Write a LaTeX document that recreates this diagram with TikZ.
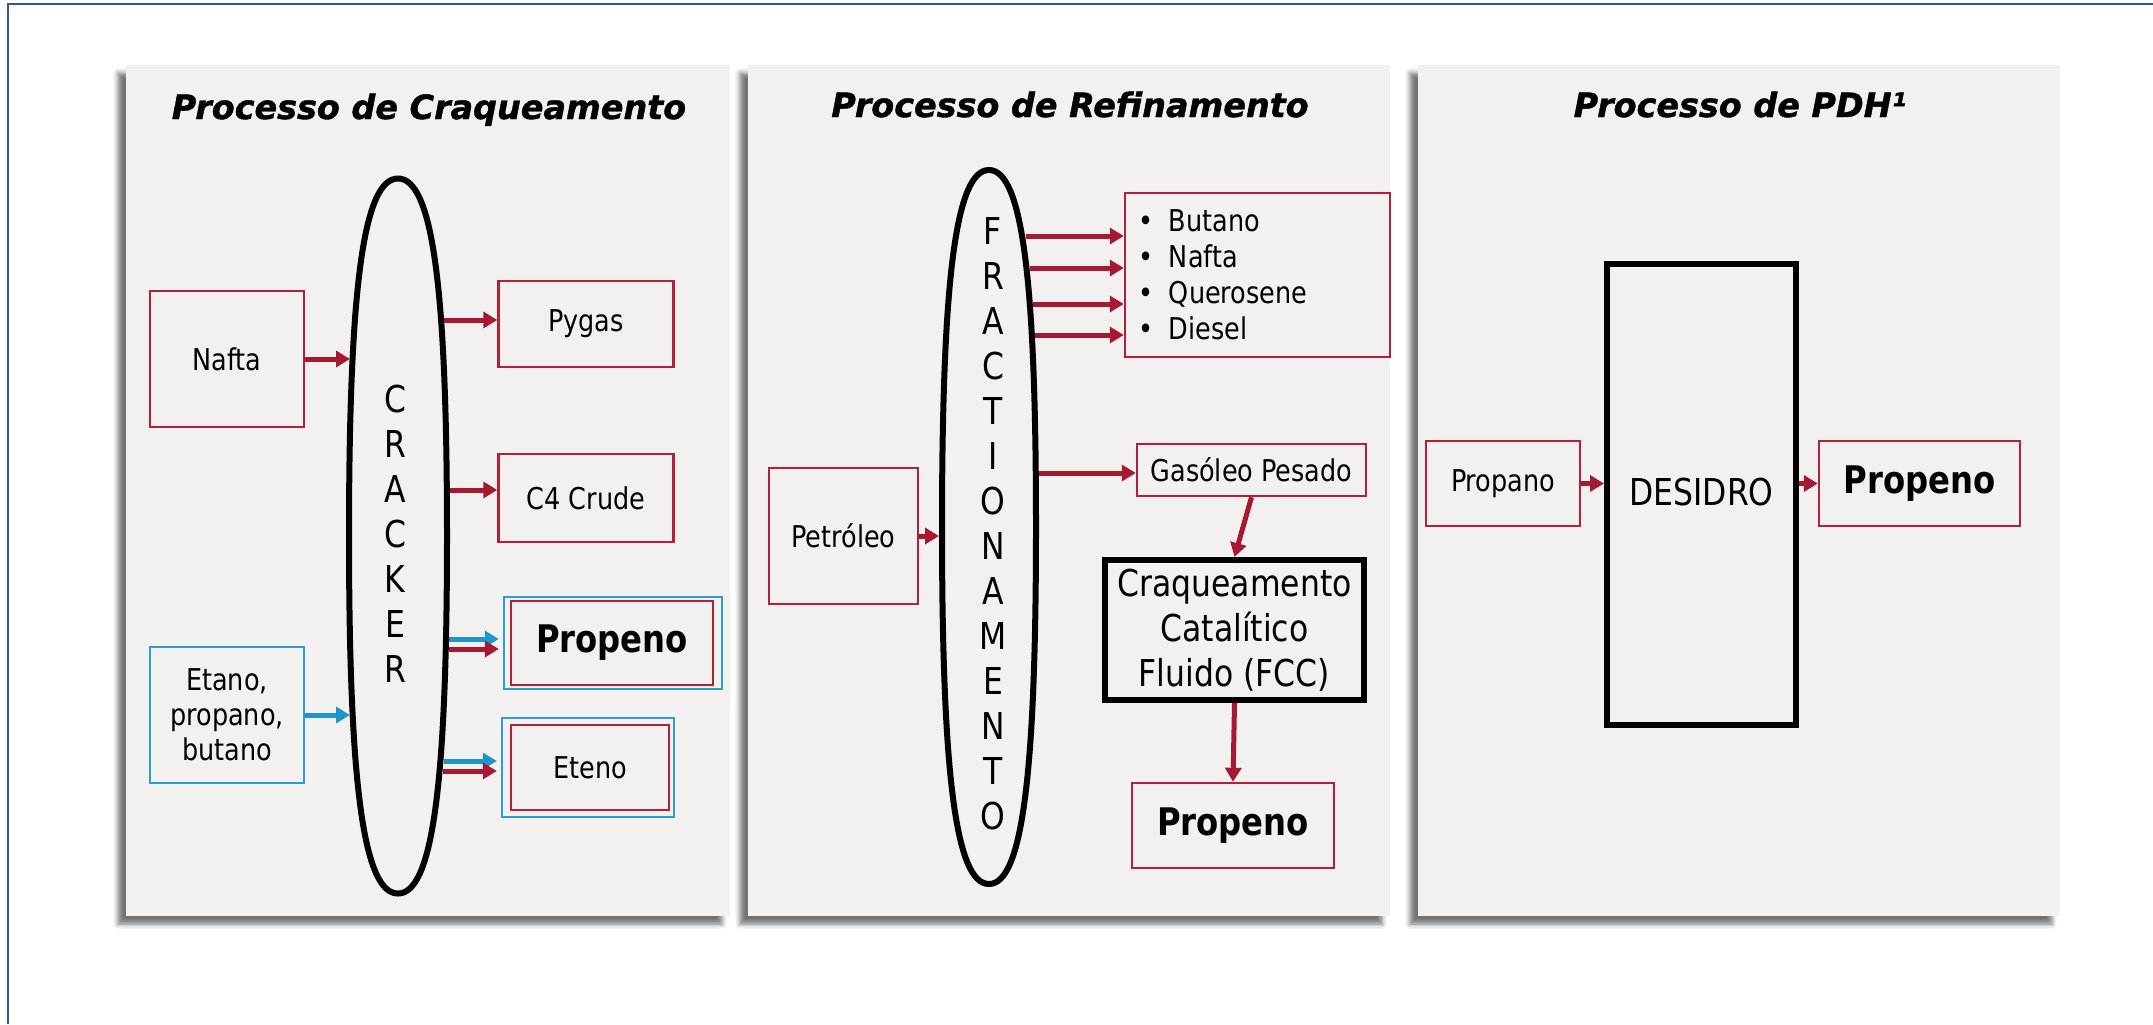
\documentclass[tikz,border=0pt]{standalone}
\usepackage{fontspec}
\setmainfont{DejaVu Sans}[FakeStretch=0.85]
\newfontfamily\titlefont{DejaVu Sans}[FakeBold=1.2]
\usetikzlibrary{arrows.meta,shapes.geometric,shadows.blur}
\definecolor{panelgray}{RGB}{242,241,239}
\definecolor{boxred}{RGB}{180,32,56}
\definecolor{flowred}{RGB}{165,25,50}
\definecolor{boxblue}{RGB}{40,158,212}
\definecolor{flowblue}{RGB}{30,150,205}
\definecolor{frameblue}{RGB}{40,90,165}
\newcommand{\listdot}{\makebox[15.5pt][l]{\textbullet}}
\begin{document}
\begin{tikzpicture}
    [x=0.5pt,y=-0.5pt,
     Panel/.style={fill=panelgray,blur shadow={shadow xshift=-4pt,shadow yshift=-4pt,shadow blur radius=2.5pt,shadow opacity=55}},
     Title/.style={anchor=base,font=\titlefont\fontsize{16.7}{20}\selectfont\bfseries\itshape},
     Box/.style={draw=boxred,line width=1.2pt,inner sep=0pt,align=center,font=\fontsize{15}{18}\selectfont},
     BlueBox/.style={Box,draw=boxblue},
     Product/.style={Box,font=\fontsize{19}{22}\selectfont\bfseries},
     Tower/.style={draw=black,line width=3pt,line join=round},
     Letters/.style={align=center,inner sep=0pt,font=\fontsize{18.5}{22.5}\selectfont},
     Unit/.style={draw=black,line width=3pt,inner sep=0pt,align=center,font=\fontsize{18.5}{22.5}\selectfont},
     Flow/.style={draw=flowred,line width=2.5pt,-{Triangle[length=7pt,width=8pt]}},
     BlueFlow/.style={Flow,draw=flowblue}]
    \useasboundingbox (0,0) rectangle (2153,1024);
    \draw[frameblue,line width=1pt] (8,1024) -- (8,4) -- (2153,4);
    \fill[Panel] (126,65) rectangle (730,916);
    \fill[Panel] (748,65) rectangle (1390,916);
    \fill[Panel] (1418,65) rectangle (2060,916);

    \node[Title] (title1) at (429,119) {Processo de Craqueamento};
    \node[Title] (title2) at (1070,117) {Processo de Refinamento};
    \node[Title] (title3) at (1740,117) {Processo de PDH¹};

    \draw[Tower,shift={(398,536)}] (0,-357.5) .. controls (34.3,-357.5) and (49,-250.25) .. (49,0)
        .. controls (49,250.25) and (34.3,357.5) .. (0,357.5)
        .. controls (-34.3,357.5) and (-49,250.25) .. (-49,0)
        .. controls (-49,-250.25) and (-34.3,-357.5) .. (0,-357.5) -- cycle;
    \node[Letters] (crackertxt) at (395,534) {C\\R\\A\\C\\K\\E\\R};
    \node[Box,minimum width=77pt,minimum height=68pt] (nafta) at (227,359) {Nafta};
    \node[BlueBox,minimum width=77pt,minimum height=68pt,font=\fontsize{15}{17.5}\selectfont] (etano) at (227,715) {Etano,\\propano,\\butano};
    \node[Box,minimum width=87.5pt,minimum height=43pt] (pygas) at (586,324) {Pygas};
    \node[Box,minimum width=87.5pt,minimum height=44pt] (crude) at (586,498) {C4 Crude};
    \node[BlueBox,minimum width=109pt,minimum height=46pt] (propA) at (613,643) {};
    \node[Product,minimum width=101pt,minimum height=42pt] (propB) at (612,643) {Propeno};
    \node[BlueBox,minimum width=86pt,minimum height=49.5pt] (etenoA) at (588,767.5) {};
    \node[Box,minimum width=79pt,minimum height=42.5pt] (etenoB) at (590,767.5) {Eteno};
    \coordinate (cin1) at (350,359);
    \coordinate (cin2) at (350,715);
    \coordinate (cout1) at (444,320);
    \coordinate (cout2) at (450,490);
    \coordinate (cout3) at (449,639);
    \coordinate (cout4) at (448.5,649);
    \coordinate (cout5) at (443.5,761);
    \coordinate (cout6) at (442.5,771);
    \draw[Flow] (nafta.east) -- (cin1);
    \draw[BlueFlow] (etano.east) -- (cin2);
    \draw[Flow] (cout1) -- (cout1 -| pygas.west);
    \draw[Flow] (cout2) -- (cout2 -| crude.west);
    \draw[BlueFlow,shorten >=2pt] (cout3) -- (cout3 -| propA.west);
    \draw[Flow,shorten >=2pt] (cout4) -- (cout4 -| propA.west);
    \draw[BlueFlow,shorten >=2pt] (cout5) -- (cout5 -| etenoA.west);
    \draw[Flow,shorten >=2pt] (cout6) -- (cout6 -| etenoA.west);

    \draw[Tower,shift={(989,527)}] (0,-357) .. controls (32.9,-357) and (47,-249.9) .. (47,0)
        .. controls (47,249.9) and (32.9,357) .. (0,357)
        .. controls (-32.9,357) and (-47,249.9) .. (-47,0)
        .. controls (-47,-249.9) and (-32.9,-357) .. (0,-357) -- cycle;
    \node[Letters] (fractxt) at (993,524) {F\\R\\A\\C\\T\\I\\O\\N\\A\\M\\E\\N\\T\\O};
    \node[Box,minimum width=74.5pt,minimum height=68pt] (petroleo) at (843.5,536) {Petróleo};
    \node[Box,minimum width=132.5pt,minimum height=82pt,text width=119.5pt,align=left,inner xsep=6.5pt] (fractions) at (1257.5,275)
        {\listdot Butano\\\listdot Nafta\\\listdot Querosene\\\listdot Diesel};
    \node[Box,minimum width=114.5pt,minimum height=26pt] (gasoleo) at (1251.5,470) {Gasóleo Pesado};
    \node[Unit,minimum width=129.5pt,minimum height=70pt] (fcc) at (1234.5,630) {Craqueamento\\Catalítico\\Fluido (FCC)};
    \node[Product,minimum width=101pt,minimum height=42.5pt] (propC) at (1233,825.5) {Propeno};
    \coordinate (fin) at (939,536);
    \coordinate (fout1) at (1026,236);
    \coordinate (fout2) at (1029.5,268);
    \coordinate (fout3) at (1033,304);
    \coordinate (fout4) at (1035,335);
    \coordinate (fout5) at (1039,473);
    \draw[Flow] (petroleo.east) -- (fin);
    \draw[Flow] (fout1) -- (fout1 -| fractions.west);
    \draw[Flow] (fout2) -- (fout2 -| fractions.west);
    \draw[Flow] (fout3) -- (fout3 -| fractions.west);
    \draw[Flow] (fout4) -- (fout4 -| fractions.west);
    \draw[Flow] (fout5) -- (fout5 -| gasoleo.west);
    \draw[Flow] (gasoleo.south) -- (fcc.north);
    \draw[Flow] (fcc.south) -- (propC.north);

    \node[Unit,minimum width=94.5pt,minimum height=230.5pt] (desidro) at (1701.5,494.5) {\raisebox{3pt}{DESIDRO}};
    \node[Box,minimum width=77pt,minimum height=42.5pt] (propano) at (1503,483.5) {Propano};
    \node[Product,minimum width=100.5pt,minimum height=42.5pt] (propD) at (1919.5,483.5) {Propeno};
    \draw[Flow] (propano.east) -- (propano.east -| desidro.west);
    \draw[Flow] (desidro.east |- propD.west) -- (propD.west);
\end{tikzpicture}
\end{document}
